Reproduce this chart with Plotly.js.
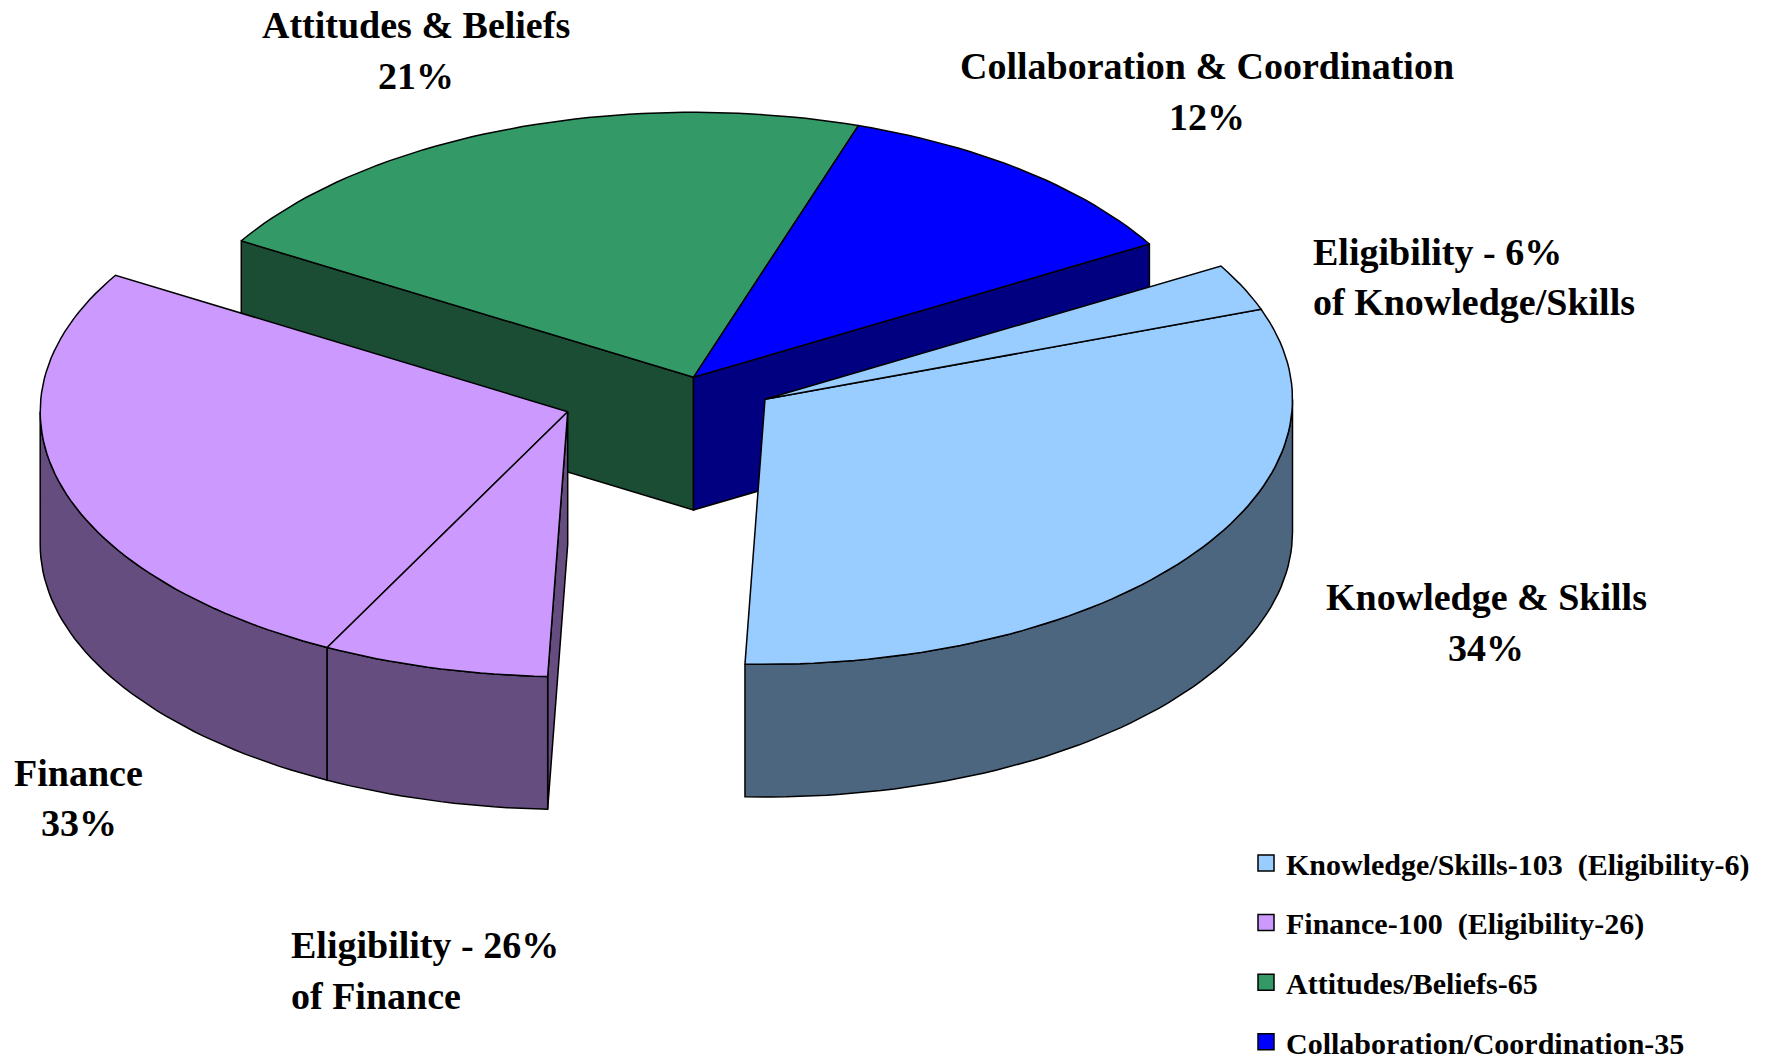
<!DOCTYPE html>
<html>
<head>
<meta charset="utf-8">
<script src="https://cdn.plot.ly/plotly-3.0.1.min.js"></script>
<style>html,body{margin:0;padding:0;background:#fff}#chart{width:1775px;height:1061px}</style>
</head>
<body>
<div id="chart"></div>
<script>
// ---- data ----
var categories = ['Collaboration/Coordination', 'Attitudes/Beliefs', 'Finance', 'Knowledge/Skills'];
var counts = [35, 65, 100, 103];
// sub-wedge size as it is drawn in the picture, in the same units as counts
var eligibilityDrawnFinance = 21.0;
var eligibilityDrawnKnowledge = 8.7;
var legendLabels = [
  'Knowledge/Skills-103\u00A0\u00A0(Eligibility-6)',
  'Finance-100\u00A0\u00A0(Eligibility-26)',
  'Attitudes/Beliefs-65',
  'Collaboration/Coordination-35'
];
var labelLines = [
  'Attitudes & Beliefs', '21%',
  'Collaboration & Coordination', '12%',
  'Eligibility - 6%', 'of Knowledge/Skills',
  'Knowledge & Skills', '34%',
  'Finance', '33%',
  'Eligibility - 26%', 'of Finance'
];

// ---- styling and layout ----
var labelX = [415.5, 415.5, 1207, 1207, 1311, 1311, 1486, 1486, 78, 79, 289, 289];
var labelY = [25, 76, 66, 117, 252, 302, 597, 647.5, 773, 823, 945, 996];
var labelAnchor = ['center','center','center','center','left','left','center','center','center','center','left','left'];
var topColors = {k:'#99CCFF', f:'#CC99FF', a:'#339966', c:'#0000FF'};
var wallColors = {k:'#4D6680', f:'#664D80', a:'#1A4D33', c:'#000080'};
var RX = 527.5, RY = 265, DEPTH = 132.7, START = 30.2;
var centre = {c:[693.5,377.3], a:[693.5,377.3], f:[567.7,411.7], k:[765,399.3]};
var FONT = 'Liberation Serif, Times New Roman, serif';
var LW = 1.5;

var total = counts.reduce(function(s,v){return s+v;},0);
var deg = function(v){return v/total*360;};
var aC0 = START, aC1 = aC0+deg(counts[0]);
var aA1 = aC1+deg(counts[1]);
var aF1 = aA1+deg(counts[2]);
var aK1 = aF1+deg(counts[3]);
var aFsplit = aF1-deg(eligibilityDrawnFinance);
var aKsplit = aK1-deg(eligibilityDrawnKnowledge);

function pt(c,t,drop){
  var r=t*Math.PI/180;
  return [c[0]+RX*Math.cos(r), c[1]-RY*Math.sin(r)+(drop?DEPTH:0)];
}
function arc(c,a,b,drop){
  var n=Math.max(2,Math.ceil(Math.abs(b-a)/1.5)),o=[];
  for(var i=0;i<=n;i++) o.push(pt(c,a+(b-a)*i/n,drop));
  return o;
}
function poly(points,fill){
  var x=points.map(function(p){return p[0];}), y=points.map(function(p){return p[1];});
  x.push(x[0]); y.push(y[0]);
  return {type:'scatter',mode:'lines',x:x,y:y,fill:'toself',fillcolor:fill,
          line:{color:'#000',width:LW,shape:'linear'},hoverinfo:'skip',showlegend:false};
}
function wedge(c,a,b,fill){ return poly([c].concat(arc(c,a,b,false)),fill); }
function radialWall(c,a,fill){
  var p=pt(c,a,false),q=pt(c,a,true);
  return poly([c,p,q,[c[0],c[1]+DEPTH]],fill);
}
function outerWall(c,a,b,fill){
  return poly(arc(c,a,b,false).concat(arc(c,b,a,true)),fill);
}

var traces=[
  radialWall(centre.a,aA1,wallColors.a),
  radialWall(centre.c,aC0,wallColors.c),
  wedge(centre.a,aC1,aA1,topColors.a),
  wedge(centre.c,aC0,aC1,topColors.c),
  radialWall(centre.f,aF1,wallColors.f),
  outerWall(centre.f,180,aFsplit,wallColors.f),
  outerWall(centre.f,aFsplit,aF1,wallColors.f),
  wedge(centre.f,aA1,aFsplit,topColors.f),
  wedge(centre.f,aFsplit,aF1,topColors.f),
  outerWall(centre.k,aF1,360,wallColors.k),
  wedge(centre.k,aF1,aKsplit,topColors.k),
  wedge(centre.k,aKsplit,aK1,topColors.k)
];
var legendColors=[topColors.k,topColors.f,topColors.a,topColors.c];
legendLabels.forEach(function(name,i){
  traces.push({type:'scatter',mode:'markers',x:[null],y:[null],name:name,legendgroup:'g'+i,
    marker:{symbol:'square',size:17,color:legendColors[i],line:{color:'#000',width:1.5}},hoverinfo:'skip'});
});

var annotations=labelLines.map(function(t,i){
  return {text:t,x:labelX[i],y:labelY[i],xref:'x',yref:'y',showarrow:false,
    xanchor:labelAnchor[i],yanchor:'middle',align:labelAnchor[i],
    font:{family:FONT,size:38,color:'#000',weight:700}};
});

Plotly.newPlot('chart',traces,{
  width:1775,height:1061,margin:{l:0,r:0,t:0,b:0,autoexpand:false},
  paper_bgcolor:'#fff',plot_bgcolor:'#fff',
  xaxis:{range:[0,1775],visible:false,fixedrange:true},
  yaxis:{range:[1061,0],visible:false,fixedrange:true},
  annotations:annotations,
  showlegend:true,
  legend:{x:1246/1775,xanchor:'left',y:1-837/1061,yanchor:'top',
    bgcolor:'rgba(0,0,0,0)',borderwidth:0,tracegroupgap:17.6,
    font:{family:FONT,size:30,color:'#000',weight:700}}
},{displayModeBar:false,staticPlot:true});
</script>
</body>
</html>
